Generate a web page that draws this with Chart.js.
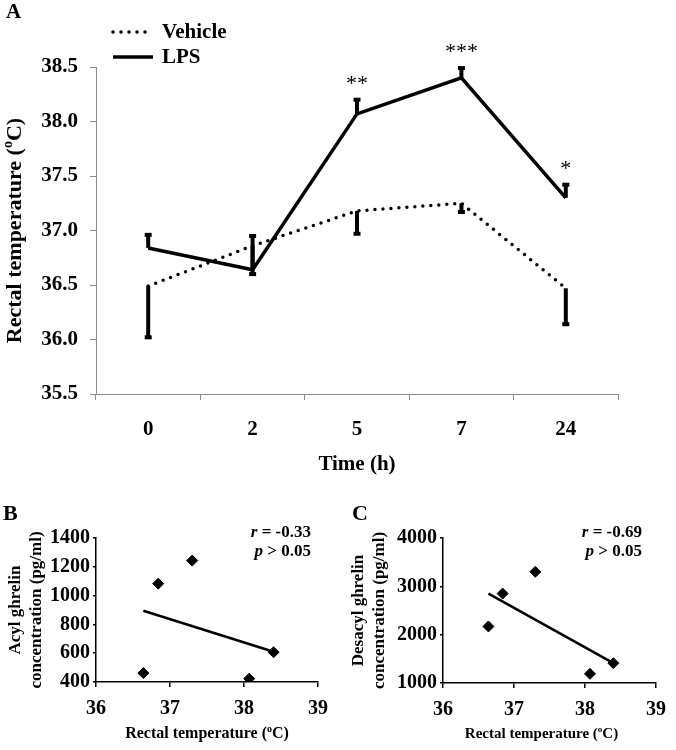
<!DOCTYPE html>
<html>
<head>
<meta charset="utf-8">
<script src="https://cdn.jsdelivr.net/npm/chart.js@4"></script>
<style>
  body { margin: 0; background: #fff; }
  canvas { position: absolute; }
</style>
</head>
<body>
<canvas id="chartA" width="676" height="480" style="left:0;top:0"></canvas>
<canvas id="chartB" width="338" height="270" style="left:0;top:480px"></canvas>
<canvas id="chartC" width="338" height="270" style="left:338px;top:480px"></canvas>
<script>
const FONT = '"Liberation Serif", "Times New Roman", serif';

// panel A: rectal temperature over time
const times = ['0', '2', '5', '7', '24'];
const vehicleTemp = [36.49, 36.86, 37.18, 37.25, 36.47];
const vehicleSem = [0.47, 0.26, 0.21, 0.08, 0.33];   // drawn downward
const lpsTemp = [36.84, 36.64, 38.07, 38.40, 37.30];
const lpsSem = [0.12, 0.31, 0.13, 0.09, 0.12];       // drawn upward
const stars = ['', '', '**', '***', '*'];

// panels B and C: ghrelin vs rectal temperature
const rectalTemp = [36.64, 36.84, 37.30, 38.07, 38.40];
const acylGhrelin = [462, 1083, 1243, 423, 607];
const desacylGhrelin = [2170, 2850, 3300, 1190, 1410];
const trendX = [36.64, 38.40];
const acylTrend = [895, 610];
const desacylTrend = [2850, 1410];
const statsB = ['-0.33', '0.05'];
const statsC = ['-0.69', '0.05'];

const tempTitle = [{t: 'Rectal temperature (', sup: false}, {t: 'o', sup: true}, {t: 'C)', sup: false}];

// draws text with a superscript part, centred on cx,cy
function drawRich(ctx, parts, cx, cy, size, angle) {
  ctx.save();
  ctx.translate(cx, cy);
  ctx.rotate(angle || 0);
  ctx.fillStyle = '#000';
  ctx.textBaseline = 'middle';
  ctx.textAlign = 'left';
  const big = 'bold ' + size + 'px ' + FONT;
  const small = 'bold ' + Math.round(size * 0.62) + 'px ' + FONT;
  let w = 0;
  parts.forEach(p => { ctx.font = p.sup ? small : big; w += ctx.measureText(p.t).width; });
  let x = -w / 2;
  parts.forEach(p => {
    ctx.font = p.sup ? small : big;
    ctx.fillText(p.t, x, p.sup ? -size * 0.3 : 0);
    x += ctx.measureText(p.t).width;
  });
  ctx.restore();
}

const panelA = {
  id: 'panelA',
  afterDatasetsDraw(chart) {
    const ctx = chart.ctx, xs = chart.scales.x, ys = chart.scales.y;
    ctx.save();
    ctx.fillStyle = '#000';
    ctx.strokeStyle = '#000';
    ctx.lineWidth = 4;
    const bar = (x, v0, v1) => {
      const y0 = ys.getPixelForValue(v0), y1 = ys.getPixelForValue(v1);
      ctx.beginPath(); ctx.moveTo(x, y0); ctx.lineTo(x, y1); ctx.stroke();
      ctx.fillRect(x - 3.5, y1 - 2, 7, 4);
    };
    times.forEach((t, i) => {
      const x = xs.getPixelForValue(i);
      bar(x, vehicleTemp[i], vehicleTemp[i] - vehicleSem[i]);
      bar(x, lpsTemp[i], lpsTemp[i] + lpsSem[i]);
      if (stars[i]) {
        ctx.font = '22px ' + FONT;
        ctx.textAlign = 'center';
        ctx.textBaseline = 'alphabetic';
        ctx.fillText(stars[i], x, ys.getPixelForValue(lpsTemp[i] + lpsSem[i]) - 10);
      }
    });
    ctx.restore();
  },
  afterDraw(chart) {
    const ctx = chart.ctx, a = chart.chartArea;
    ctx.save();
    ctx.fillStyle = '#000';
    ctx.font = 'bold 21px ' + FONT;
    ctx.textBaseline = 'alphabetic';
    ctx.fillText('A', 6, 18);
    // legend
    chart.data.datasets.forEach((ds, i) => {
      const y = 32 + i * 25;
      ctx.beginPath();
      ctx.lineWidth = ds.borderWidth;
      ctx.lineCap = ds.borderCapStyle || 'butt';
      ctx.setLineDash(ds.borderDash || []);
      ctx.moveTo(113, y); ctx.lineTo(153, y);
      ctx.stroke();
      ctx.setLineDash([]);
      ctx.font = 'bold 21px ' + FONT;
      ctx.textBaseline = 'middle';
      ctx.fillText(ds.label, 162, y + 1);
    });
    ctx.restore();
    drawRich(ctx, tempTitle, 15, (a.top + a.bottom) / 2, 22, -Math.PI / 2);
    drawRich(ctx, [{t: 'Time (h)', sup: false}], (a.left + a.right) / 2, 465, 21, 0);
  }
};

new Chart(document.getElementById('chartA'), {
  type: 'line',
  data: {
    labels: times,
    datasets: [{
      label: 'Vehicle',
      data: vehicleTemp,
      borderColor: '#000',
      borderWidth: 3.5,
      borderDash: [0, 8],
      borderCapStyle: 'round',
      pointRadius: 0
    }, {
      label: 'LPS',
      data: lpsTemp,
      borderColor: '#000',
      borderWidth: 3.5,
      pointRadius: 0
    }]
  },
  options: {
    responsive: false,
    animation: false,
    layout: { padding: { left: 0, top: 67, right: 58, bottom: 0 } },
    plugins: { legend: { display: false }, tooltip: { enabled: false } },
    elements: { line: { tension: 0 } },
    scales: {
      x: {
        offset: true,
        grid: { offset: true, drawOnChartArea: false, tickLength: 6, color: '#8c8c8c' },
        border: { color: '#8c8c8c' },
        ticks: { color: '#000', padding: 17, font: { family: FONT, size: 21, weight: 'bold' } },
        afterFit(s) { s.height = 86; }
      },
      y: {
        min: 35.5,
        max: 38.5,
        grid: { drawOnChartArea: false, tickLength: 6, color: '#8c8c8c' },
        border: { color: '#8c8c8c' },
        ticks: {
          stepSize: 0.5,
          color: '#000',
          padding: 12,
          font: { family: FONT, size: 21, weight: 'bold' },
          callback: v => v.toFixed(1)
        },
        afterFit(s) { s.width = 96; }
      }
    }
  },
  plugins: [panelA]
});

function scatterPanel(id, letter, yLines, yVals, trendVals, yMin, yMax, yStep, stats, lay) {
  const deco = {
    id: 'deco' + letter,
    afterDraw(chart) {
      const ctx = chart.ctx, a = chart.chartArea;
      ctx.save();
      ctx.fillStyle = '#000';
      ctx.font = 'bold 22px ' + FONT;
      ctx.textBaseline = 'alphabetic';
      ctx.fillText(letter, lay.letterX, 40);
      // r and p values
      const drawStat = (ital, rest, y) => {
        ctx.font = 'italic bold 17px ' + FONT;
        const w1 = ctx.measureText(ital).width;
        ctx.font = 'bold 17px ' + FONT;
        const w2 = ctx.measureText(rest).width;
        const x0 = a.right - lay.statRight - w1 - w2;
        ctx.font = 'italic bold 17px ' + FONT;
        ctx.fillText(ital, x0, y);
        ctx.font = 'bold 17px ' + FONT;
        ctx.fillText(rest, x0 + w1, y);
      };
      drawStat('r', ' = ' + stats[0], 57);
      drawStat('p', ' > ' + stats[1], 76);
      ctx.restore();
      const cy = (a.top + a.bottom) / 2;
      drawRich(ctx, [{t: yLines[0], sup: false}], lay.yTitleX, cy, 17, -Math.PI / 2);
      drawRich(ctx, [{t: yLines[1], sup: false}], lay.yTitleX + 21, cy, 17, -Math.PI / 2);
      drawRich(ctx, tempTitle, (a.left + a.right) / 2 + lay.xTitleShift, 254, lay.xTitleSize, 0);
    }
  };
  const axisFont = { family: FONT, size: 20, weight: 'bold' };
  return new Chart(document.getElementById(id), {
    type: 'scatter',
    data: {
      datasets: [{
        data: rectalTemp.map((t, i) => ({ x: t, y: yVals[i] })),
        pointStyle: 'rectRot',
        pointRadius: 5.5,
        backgroundColor: '#000',
        borderColor: '#000'
      }, {
        type: 'line',
        data: trendX.map((t, i) => ({ x: t, y: trendVals[i] })),
        borderColor: '#000',
        borderWidth: 2.5,
        pointRadius: 0
      }]
    },
    options: {
      responsive: false,
      animation: false,
      layout: { padding: { left: 0, top: lay.top, right: lay.right, bottom: 0 } },
      plugins: { legend: { display: false }, tooltip: { enabled: false } },
      scales: {
        x: {
          type: 'linear',
          min: 36,
          max: 39,
          grid: { drawOnChartArea: false, tickLength: 5, color: '#000', lineWidth: 1.5 },
          border: { color: '#000', width: 1.5 },
          ticks: { stepSize: 1, color: '#000', padding: 10, font: axisFont, callback: v => String(v) },
          afterFit(s) { s.height = lay.xHeight; }
        },
        y: {
          min: yMin,
          max: yMax,
          grid: { drawOnChartArea: false, tickLength: 3, color: '#000', lineWidth: 1.5 },
          border: { color: '#000', width: 1.5 },
          ticks: { stepSize: yStep, color: '#000', padding: 3, font: axisFont, callback: v => String(v) },
          afterFit(s) { s.width = lay.yWidth; }
        }
      }
    },
    plugins: [deco]
  });
}

scatterPanel('chartB', 'B', ['Acyl ghrelin', 'concentration (pg/ml)'], acylGhrelin, acylTrend,
  400, 1400, 200, statsB,
  { letterX: 3, top: 58, right: 19, xHeight: 68, yWidth: 96, yTitleX: 16, statRight: 7, xTitleShift: 0, xTitleSize: 16 });

scatterPanel('chartC', 'C', ['Desacyl ghrelin', 'concentration (pg/ml)'], desacylGhrelin, desacylTrend,
  1000, 4000, 1000, statsC,
  { letterX: 14, top: 58, right: 10, xHeight: 67, yWidth: 105, yTitleX: 21, statRight: 14, xTitleShift: -8, xTitleSize: 15 });
</script>
</body>
</html>
